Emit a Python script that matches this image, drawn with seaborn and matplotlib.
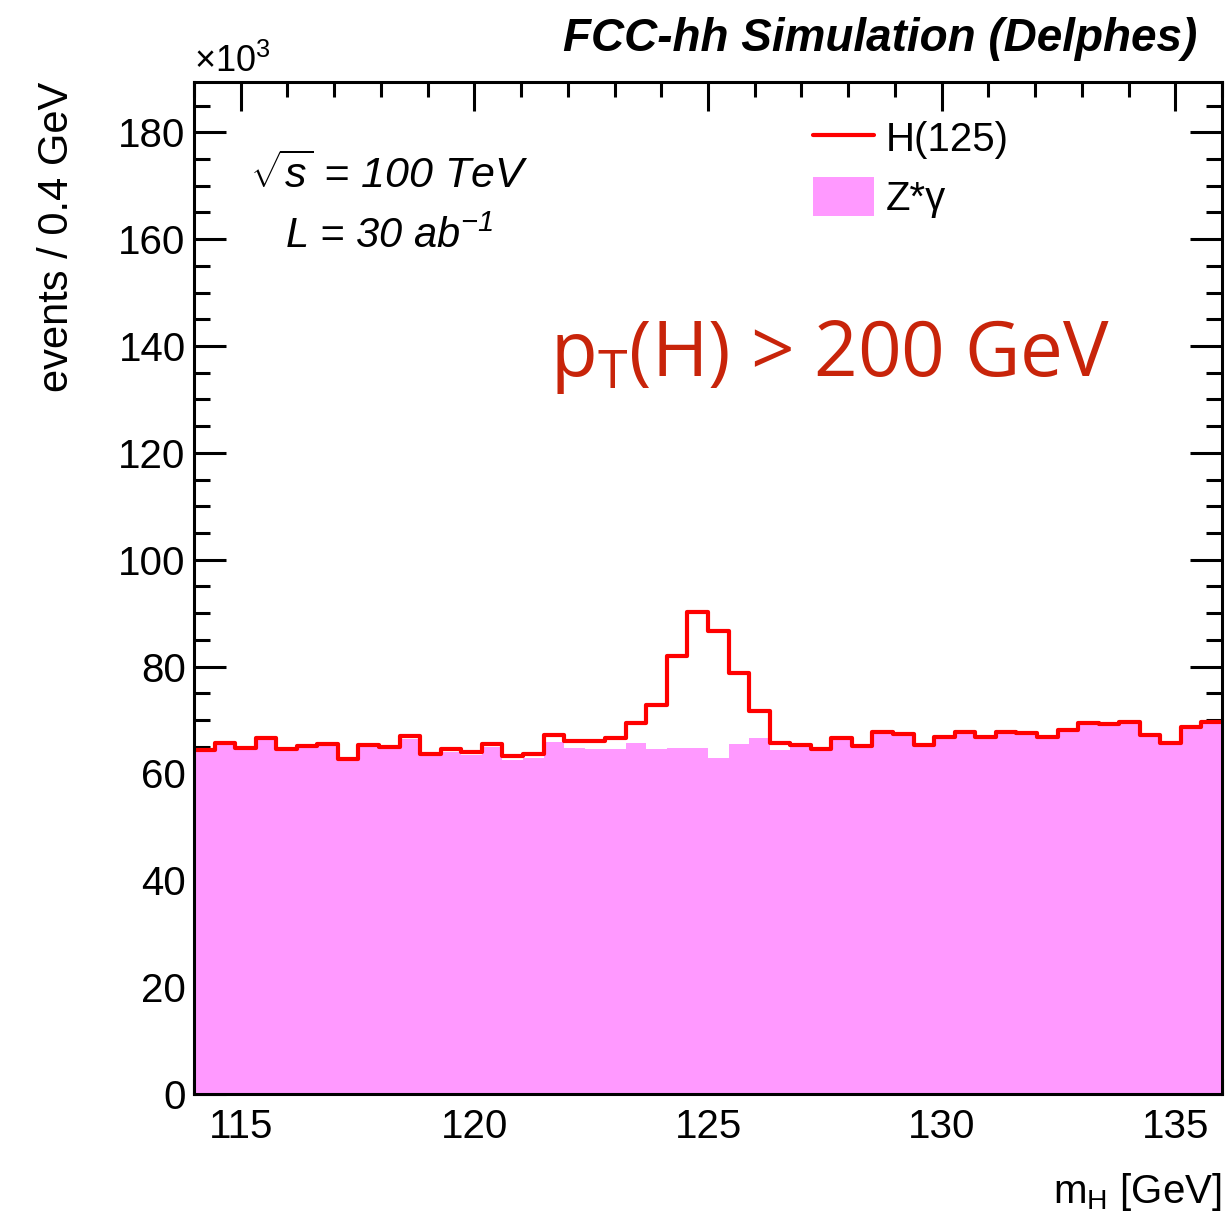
import numpy as np
import pandas as pd
import matplotlib
matplotlib.use("Agg")
import matplotlib.pyplot as plt
from matplotlib.lines import Line2D
from matplotlib.patches import Patch
from matplotlib.ticker import MultipleLocator
import seaborn as sns

sns.set_style("ticks")
plt.rcParams["font.family"] = ["Liberation Sans", "DejaVu Sans"]
plt.rcParams["mathtext.fontset"] = "custom"
plt.rcParams["mathtext.rm"] = "Liberation Sans"
plt.rcParams["mathtext.it"] = "Liberation Sans:italic"
for key in ["text.color", "axes.labelcolor", "xtick.color", "ytick.color", "axes.edgecolor"]:
    plt.rcParams[key] = "black"

# m_H binning: 50 bins from 114 to 136 GeV
m_lo, m_hi, n_bins = 114.0, 136.0, 50

# events per bin, in units of 10^3
zgamma = [64.1, 65.3, 64.5, 66.4, 64.3, 64.7, 65.1, 62.3, 65.0, 64.6,
          66.5, 63.2, 64.1, 63.5, 64.9, 62.5, 62.8, 65.8, 64.8, 64.5,
          64.5, 65.6, 64.6, 64.8, 64.7, 62.9, 65.5, 66.6, 64.4, 64.9,
          64.2, 66.3, 64.9, 67.5, 67.0, 65.1, 66.6, 67.4, 66.6, 67.4,
          67.3, 66.6, 67.8, 69.1, 68.9, 69.4, 66.9, 65.3, 68.3, 69.3]
higgs = [0.3, 0.3, 0.3, 0.3, 0.3, 0.4, 0.4, 0.4, 0.4, 0.4,
         0.5, 0.5, 0.5, 0.6, 0.6, 0.7, 0.8, 1.3, 1.3, 1.6,
         2.2, 3.9, 8.2, 17.2, 25.5, 23.7, 13.3, 5.1, 1.3, 0.4,
         0.3, 0.3, 0.3, 0.3, 0.3, 0.3, 0.3, 0.3, 0.3, 0.3,
         0.3, 0.3, 0.3, 0.3, 0.3, 0.3, 0.3, 0.3, 0.3, 0.3]

edges = np.linspace(m_lo, m_hi, n_bins + 1)
centers = 0.5 * (edges[:-1] + edges[1:])
df = pd.DataFrame({"mH": centers, "zgamma": zgamma, "higgs": higgs})
df["stack"] = df["zgamma"] + df["higgs"]

W, H = 1231, 1217
fig = plt.figure(figsize=(W / 100, H / 100), dpi=100)
ax = fig.add_axes([194 / W, (H - 1094) / H, (1222 - 194) / W, (1094 - 82) / H])

pink = "#ff99ff"
sns.histplot(data=df, x="mH", weights="zgamma", bins=n_bins, binrange=(m_lo, m_hi),
             element="step", fill=True, color=pink, alpha=1, linewidth=0, ax=ax)
sns.histplot(data=df, x="mH", weights="stack", bins=n_bins, binrange=(m_lo, m_hi),
             element="step", fill=False, color="#ff0000", linewidth=3.0, ax=ax)

ax.set_xlim(m_lo, m_hi)
ax.set_ylim(0, 189.4)
ax.xaxis.set_major_locator(MultipleLocator(5))
ax.xaxis.set_minor_locator(MultipleLocator(1))
ax.yaxis.set_major_locator(MultipleLocator(20))
ax.yaxis.set_minor_locator(MultipleLocator(5))
ax.tick_params(which="both", direction="in", top=True, right=True, width=2.2,
               labelsize=29)
ax.tick_params(axis="x", which="major", length=21, pad=10)
ax.tick_params(axis="x", which="minor", length=10.5)
ax.tick_params(axis="y", which="major", length=23, pad=6)
ax.tick_params(axis="y", which="minor", length=11.5)
for s in ax.spines.values():
    s.set_linewidth(2.2)
    s.set_visible(True)

ax.set_xlabel(r"m$_\mathregular{H}$ [GeV]", fontsize=29, loc="right")
ax.set_ylabel("events / 0.4 GeV", fontsize=30, loc="top")
ax.xaxis.set_label_coords(1.0, -0.076)
ax.yaxis.set_label_coords(-0.114, 1.0)

fig.text(194 / W, 1 - 62 / H, r"$\times$10$^\mathregular{3}$", fontsize=26,
         ha="left", va="center")
fig.text(1197 / W, 1 - 39 / H, "FCC-hh Simulation (Delphes)", fontsize=33,
         fontweight="bold", style="italic", ha="right", va="center")
fig.text(250 / W, 1 - 175 / H, r"$\sqrt{s}$ = 100 TeV", fontsize=31,
         style="italic", ha="left", va="center")
fig.text(285 / W, 1 - 237 / H, r"L = 30 ab$^\mathregular{-1}$", fontsize=30,
         style="italic", ha="left", va="center")
fig.text(550 / W, 1 - 376 / H, r"p$_\mathregular{T}$(H) > 200 GeV", fontsize=55,
         color="#c8240a", family=["Open Sans", "DejaVu Sans"],
         ha="left", va="baseline")

handles = [Line2D([], [], color="#ff0000", linewidth=3.0),
           Patch(facecolor=pink, edgecolor="none")]
ax.legend(handles, ["H(125)", "Z*γ"], loc="upper left",
          bbox_to_anchor=(797 / W, 1 - 102 / H), bbox_transform=fig.transFigure,
          frameon=False, fontsize=29, handlelength=1.5, handleheight=1.1,
          handletextpad=0.3, labelspacing=0.45, borderaxespad=0)

fig.savefig("out.png", dpi=100)
